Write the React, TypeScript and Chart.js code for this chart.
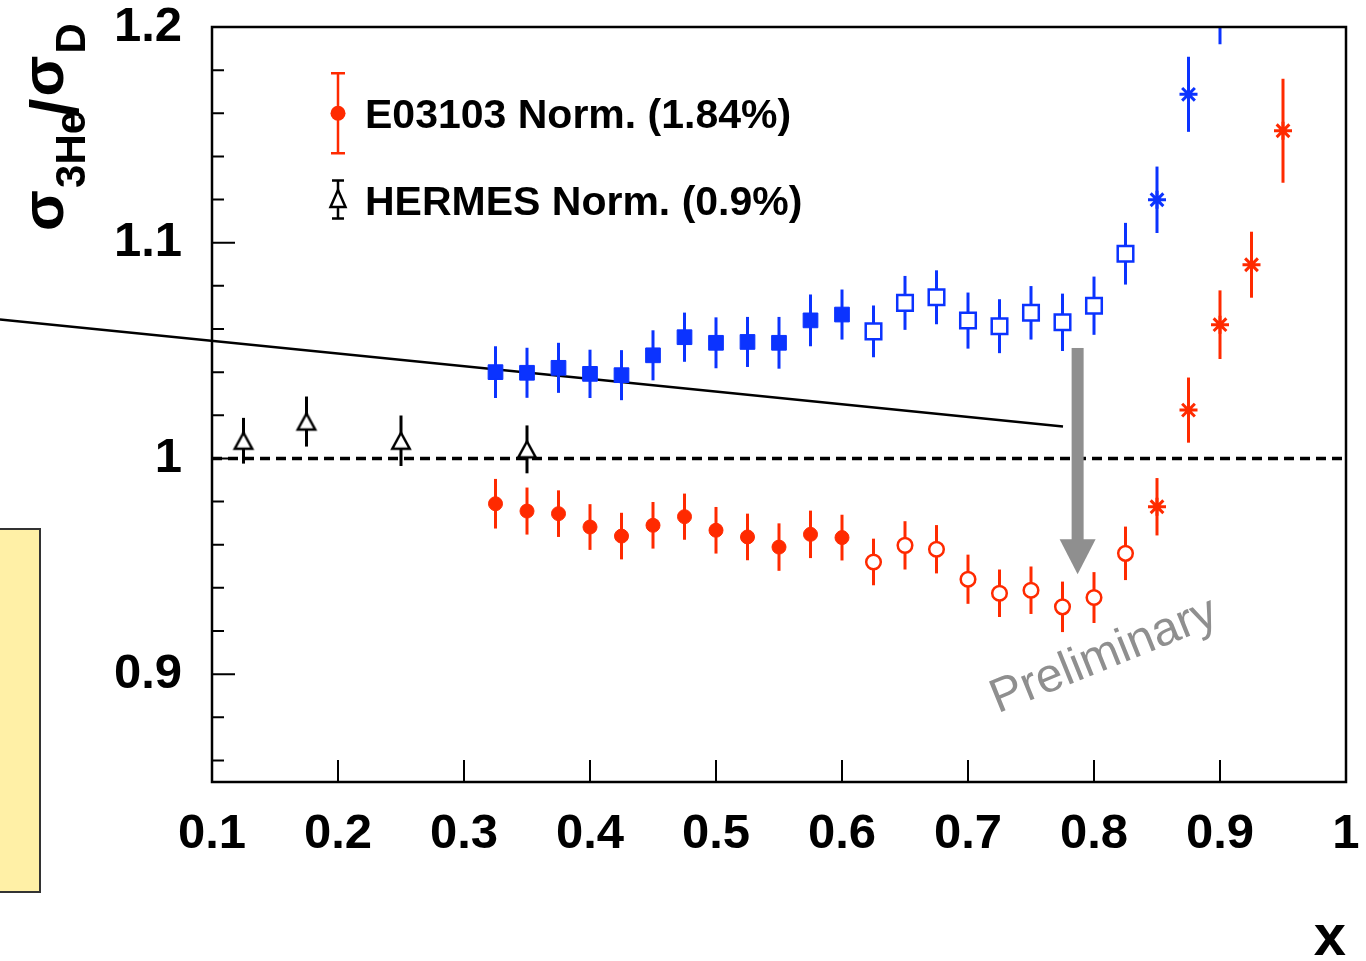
import { useEffect, useRef } from 'react';
import { Chart, registerables } from 'chart.js';

Chart.register(...registerables);

const FAMILY = '"Liberation Sans", Arial, Helvetica, sans-serif';
const RED = '#ff2a00';
const BLUE = '#0b33ff';
const GREY = '#8f8f8f';

// x bins of the ratio measurement
const xFilled = [0.325, 0.35, 0.375, 0.4, 0.425, 0.45, 0.475, 0.5, 0.525, 0.55, 0.575, 0.6];
const xOpen = [0.625, 0.65, 0.675, 0.7, 0.725, 0.75, 0.775, 0.8, 0.825];
const xStarBlue = [0.85, 0.875, 0.9];
const xStarRed = [0.85, 0.875, 0.9, 0.925, 0.95];

// upper (blue) ratio values and uncertainties
const blueFilledY = [1.04, 1.0397, 1.042, 1.0392, 1.0386, 1.0478, 1.0562, 1.0536, 1.054, 1.0536, 1.064, 1.0667];
const blueFilledErr = [0.012, 0.0116, 0.0116, 0.0112, 0.0116, 0.0116, 0.0114, 0.0118, 0.0116, 0.012, 0.012, 0.0116];
const blueOpenY = [1.0589, 1.0721, 1.0747, 1.0639, 1.0613, 1.0675, 1.0631, 1.0708, 1.0949];
const blueOpenErr = [0.012, 0.0125, 0.0125, 0.013, 0.0125, 0.0124, 0.0133, 0.0135, 0.0143];
const blueStarY = [1.1199, 1.1688, 1.215];
const blueStarErr = [0.0154, 0.0174, 0.023];

// lower (red) ratio values and uncertainties
const redFilledY = [0.979, 0.9756, 0.9744, 0.9682, 0.964, 0.969, 0.973, 0.9667, 0.9636, 0.9589, 0.9648, 0.9633];
const redFilledErr = [0.0115, 0.0109, 0.0108, 0.0106, 0.0108, 0.0108, 0.0107, 0.0108, 0.0108, 0.011, 0.011, 0.0106];
const redOpenY = [0.952, 0.9597, 0.9579, 0.944, 0.9375, 0.9389, 0.9312, 0.9355, 0.956];
const redOpenErr = [0.0108, 0.0112, 0.0112, 0.0114, 0.011, 0.011, 0.0117, 0.0118, 0.0124];
const redStarY = [0.9776, 1.0224, 1.062, 1.0898, 1.1519];
const redStarErr = [0.0133, 0.0151, 0.0159, 0.0153, 0.0241];

// HERMES points
const hermesX = [0.125, 0.175, 0.25, 0.35];
const hermesY = [1.0082, 1.0171, 1.0082, 1.0042];
const hermesErr = [0.0106, 0.0116, 0.0117, 0.0111];

// straight-line curve and unity reference
const fitX = [-0.0683, 0.7754];
const fitY = [1.0644, 1.0148];
const unityX = [0.1, 1.0];
const unityY = [1, 1];

// axis ticks
const xTickValues = [0.1, 0.2, 0.3, 0.4, 0.5, 0.6, 0.7, 0.8, 0.9, 1.0];
const yMajorTicks = [0.9, 1.0, 1.1, 1.2];
const yMinorTicks = [0.86, 0.88, 0.92, 0.94, 0.96, 0.98, 1.02, 1.04, 1.06, 1.08, 1.12, 1.14, 1.16, 1.18];

// arrow and watermark
const arrowX = 0.787;
const arrowFromY = 1.0512;
const arrowToY = 0.9463;
const stampX = 0.808;
const stampY = 0.9083;

const pts = (xs: number[], ys: number[]) => xs.map((x, i) => ({ x, y: ys[i] }));
const fmt = (v: number | string) => String(Math.round(Number(v) * 100) / 100);

function triangleMarker(): HTMLCanvasElement {
  const c = document.createElement('canvas');
  c.width = 26;
  c.height = 26;
  const g = c.getContext('2d')!;
  g.beginPath();
  g.moveTo(13, 5);
  g.lineTo(21.7, 21);
  g.lineTo(4.3, 21);
  g.closePath();
  g.fillStyle = '#fff';
  g.fill();
  g.lineWidth = 2.5;
  g.strokeStyle = '#000';
  g.lineJoin = 'miter';
  g.stroke();
  return c;
}

const errorBars = {
  id: 'errorBars',
  beforeDatasetDraw(chart: any, args: any) {
    const ds = chart.data.datasets[args.index];
    if (!ds.errors) return;
    const { ctx, chartArea: a } = chart;
    const xs = chart.scales.x;
    const ys = chart.scales.y;
    ctx.save();
    ctx.beginPath();
    ctx.rect(a.left, a.top, a.right - a.left, a.bottom - a.top);
    ctx.clip();
    ctx.strokeStyle = ds.errorColor;
    ctx.lineWidth = 3;
    ds.data.forEach((p: any, i: number) => {
      const px = xs.getPixelForValue(p.x);
      ctx.beginPath();
      ctx.moveTo(px, ys.getPixelForValue(p.y + ds.errors[i]));
      ctx.lineTo(px, ys.getPixelForValue(p.y - ds.errors[i]));
      ctx.stroke();
    });
    ctx.restore();
  },
};

const decorations = {
  id: 'decorations',
  afterDatasetsDraw(chart: any) {
    const { ctx, chartArea: a } = chart;
    const xs = chart.scales.x;
    const ys = chart.scales.y;

    // grey arrow
    const ax = xs.getPixelForValue(arrowX);
    const aTop = ys.getPixelForValue(arrowFromY);
    const aTip = ys.getPixelForValue(arrowToY);
    ctx.save();
    ctx.fillStyle = GREY;
    ctx.fillRect(ax - 6, aTop, 12, aTip - aTop - 34);
    ctx.beginPath();
    ctx.moveTo(ax - 18, aTip - 35);
    ctx.lineTo(ax + 18, aTip - 35);
    ctx.lineTo(ax, aTip);
    ctx.closePath();
    ctx.fill();

    // watermark
    ctx.translate(xs.getPixelForValue(stampX), ys.getPixelForValue(stampY));
    ctx.rotate((-22 * Math.PI) / 180);
    ctx.font = `48px ${FAMILY}`;
    ctx.textAlign = 'center';
    ctx.textBaseline = 'middle';
    ctx.fillText('Preliminary', 0, 0);
    ctx.restore();

    // legend
    const lx = xs.getPixelForValue(0.2);
    const r1 = ys.getPixelForValue(1.16);
    const r2 = ys.getPixelForValue(1.12);
    ctx.save();
    ctx.strokeStyle = RED;
    ctx.lineWidth = 2.5;
    ctx.beginPath();
    ctx.moveTo(lx, r1 - 40);
    ctx.lineTo(lx, r1 + 40);
    ctx.moveTo(lx - 7, r1 - 40);
    ctx.lineTo(lx + 7, r1 - 40);
    ctx.moveTo(lx - 7, r1 + 40);
    ctx.lineTo(lx + 7, r1 + 40);
    ctx.stroke();
    ctx.fillStyle = RED;
    ctx.beginPath();
    ctx.arc(lx, r1, 7.5, 0, Math.PI * 2);
    ctx.fill();

    ctx.strokeStyle = '#000';
    ctx.lineWidth = 2.5;
    ctx.beginPath();
    ctx.moveTo(lx, r2 - 19);
    ctx.lineTo(lx, r2 + 19);
    ctx.moveTo(lx - 6, r2 - 19);
    ctx.lineTo(lx + 6, r2 - 19);
    ctx.moveTo(lx - 6, r2 + 19);
    ctx.lineTo(lx + 6, r2 + 19);
    ctx.stroke();
    ctx.beginPath();
    ctx.moveTo(lx, r2 - 9.5);
    ctx.lineTo(lx + 7.5, r2 + 7.5);
    ctx.lineTo(lx - 7.5, r2 + 7.5);
    ctx.closePath();
    ctx.fillStyle = '#fff';
    ctx.fill();
    ctx.stroke();

    ctx.fillStyle = '#000';
    ctx.font = `bold 41px ${FAMILY}`;
    ctx.textAlign = 'left';
    ctx.textBaseline = 'alphabetic';
    ctx.fillText('E03103 Norm. (1.84%)', lx + 27, r1 + 15);
    ctx.fillText('HERMES Norm. (0.9%)', lx + 27, r2 + 15);
    ctx.restore();

    // frame and inward ticks
    ctx.save();
    ctx.strokeStyle = '#000';
    ctx.lineWidth = 2.5;
    ctx.strokeRect(a.left, a.top, a.right - a.left, a.bottom - a.top);
    ctx.lineWidth = 2;
    ctx.beginPath();
    yMajorTicks.forEach((v) => {
      const py = ys.getPixelForValue(v);
      ctx.moveTo(a.left, py);
      ctx.lineTo(a.left + 23, py);
    });
    yMinorTicks.forEach((v) => {
      const py = ys.getPixelForValue(v);
      ctx.moveTo(a.left, py);
      ctx.lineTo(a.left + 12, py);
    });
    xTickValues.forEach((v) => {
      const px = xs.getPixelForValue(v);
      ctx.moveTo(px, a.bottom);
      ctx.lineTo(px, a.bottom - 22);
    });
    ctx.stroke();
    ctx.restore();
  },
  afterDraw(chart: any) {
    const { ctx } = chart;
    ctx.save();
    ctx.fillStyle = '#000';
    ctx.textBaseline = 'alphabetic';
    ctx.textAlign = 'left';

    // vertical axis title: sigma_3He / sigma_D
    ctx.translate(63, 231);
    ctx.rotate(-Math.PI / 2);
    const big = `bold 60px ${FAMILY}`;
    const sub = `bold 42px ${FAMILY}`;
    let cx = 0;
    ctx.font = big;
    ctx.fillText('σ', cx, 0);
    cx += ctx.measureText('σ').width + 2;
    ctx.font = sub;
    ctx.fillText('3He', cx, 22);
    cx += ctx.measureText('3He').width - 6;
    ctx.font = `bold 66px ${FAMILY}`;
    ctx.fillText('/', cx, 14);
    cx += ctx.measureText('/').width + 2;
    ctx.font = big;
    ctx.fillText('σ', cx, 0);
    cx += ctx.measureText('σ').width + 2;
    ctx.font = sub;
    ctx.fillText('D', cx, 22);
    ctx.restore();

    // horizontal axis title
    ctx.save();
    ctx.fillStyle = '#000';
    ctx.font = `bold 58px ${FAMILY}`;
    ctx.textAlign = 'right';
    ctx.textBaseline = 'alphabetic';
    ctx.fillText('x', 1346, 955);
    ctx.restore();
  },
};

export default function App() {
  const canvasRef = useRef<HTMLCanvasElement>(null);

  useEffect(() => {
    const canvas = canvasRef.current;
    if (!canvas) return;
    const tri = triangleMarker();

    const marker = (extra: any) => ({
      type: 'scatter',
      showLine: false,
      pointHoverRadius: extra.pointRadius,
      ...extra,
    });

    const chart = new Chart(canvas, {
      type: 'scatter',
      data: {
        datasets: [
          marker({
            data: pts(xFilled, redFilledY),
            errors: redFilledErr,
            errorColor: RED,
            pointStyle: 'circle',
            pointRadius: 7,
            pointBackgroundColor: RED,
            pointBorderColor: RED,
            pointBorderWidth: 1,
          }),
          marker({
            data: pts(xOpen, redOpenY),
            errors: redOpenErr,
            errorColor: RED,
            pointStyle: 'circle',
            pointRadius: 7.3,
            pointBackgroundColor: '#fff',
            pointBorderColor: RED,
            pointBorderWidth: 2.5,
          }),
          marker({
            data: pts(xStarRed, redStarY),
            errors: redStarErr,
            errorColor: RED,
            pointStyle: 'star',
            pointRadius: 9,
            pointBackgroundColor: RED,
            pointBorderColor: RED,
            pointBorderWidth: 3,
          }),
          marker({
            data: pts(xFilled, blueFilledY),
            errors: blueFilledErr,
            errorColor: BLUE,
            pointStyle: 'rect',
            pointRadius: 10.4,
            pointBackgroundColor: BLUE,
            pointBorderColor: BLUE,
            pointBorderWidth: 1,
          }),
          marker({
            data: pts(xOpen, blueOpenY),
            errors: blueOpenErr,
            errorColor: BLUE,
            pointStyle: 'rect',
            pointRadius: 11,
            pointBackgroundColor: '#fff',
            pointBorderColor: BLUE,
            pointBorderWidth: 2.5,
          }),
          marker({
            data: pts(xStarBlue, blueStarY),
            errors: blueStarErr,
            errorColor: BLUE,
            pointStyle: 'star',
            pointRadius: 9,
            pointBackgroundColor: BLUE,
            pointBorderColor: BLUE,
            pointBorderWidth: 3,
          }),
          marker({
            data: pts(hermesX, hermesY),
            errors: hermesErr,
            errorColor: '#000',
            pointStyle: tri,
            pointRadius: 10,
          }),
          {
            type: 'line',
            data: pts(fitX, fitY),
            borderColor: '#000',
            borderWidth: 2.5,
            pointRadius: 0,
            showLine: true,
            clip: false,
          },
          {
            type: 'line',
            data: pts(unityX, unityY),
            borderColor: '#000',
            borderWidth: 3.5,
            borderDash: [10, 6],
            pointRadius: 0,
            showLine: true,
          },
        ] as any,
      },
      options: {
        responsive: false,
        animation: false,
        devicePixelRatio: 1,
        events: [],
        layout: { padding: { top: 27, right: 20, left: 0, bottom: 0 } },
        plugins: { legend: { display: false }, tooltip: { enabled: false } },
        scales: {
          x: {
            type: 'linear',
            min: 0.1,
            max: 1.0,
            grid: { display: false, drawTicks: false },
            border: { display: false },
            ticks: {
              color: '#000',
              font: { family: FAMILY, size: 49, weight: 'bold' },
              padding: 23,
              maxRotation: 0,
              autoSkip: false,
              callback: (v: any) => fmt(v),
            },
            afterBuildTicks: (s: any) => {
              s.ticks = xTickValues.map((value) => ({ value }));
            },
            afterFit: (s: any) => {
              s.height = 179;
              s.paddingLeft = 0;
              s.paddingRight = 0;
            },
          },
          y: {
            type: 'linear',
            min: 0.85,
            max: 1.2,
            grid: { display: false, drawTicks: false },
            border: { display: false },
            ticks: {
              color: '#000',
              font: { family: FAMILY, size: 49, weight: 'bold' },
              padding: 30,
              autoSkip: false,
              callback: (v: any) => fmt(v),
            },
            afterBuildTicks: (s: any) => {
              s.ticks = yMajorTicks.map((value) => ({ value }));
            },
            afterFit: (s: any) => {
              s.width = 212;
              s.paddingTop = 0;
              s.paddingBottom = 0;
            },
          },
        },
      } as any,
      plugins: [errorBars, decorations] as any,
    });

    return () => chart.destroy();
  }, []);

  return (
    <div style={{ position: 'fixed', left: 0, top: 0, width: 1366, height: 961, background: '#fff', overflow: 'hidden' }}>
      <div
        style={{
          position: 'absolute',
          left: -6,
          top: 528,
          width: 47,
          height: 365,
          boxSizing: 'border-box',
          background: '#fff0a6',
          border: '2.5px solid #333',
        }}
      />
      <canvas
        ref={canvasRef}
        width={1366}
        height={961}
        style={{ position: 'absolute', left: 0, top: 0, width: 1366, height: 961 }}
      />
    </div>
  );
}
